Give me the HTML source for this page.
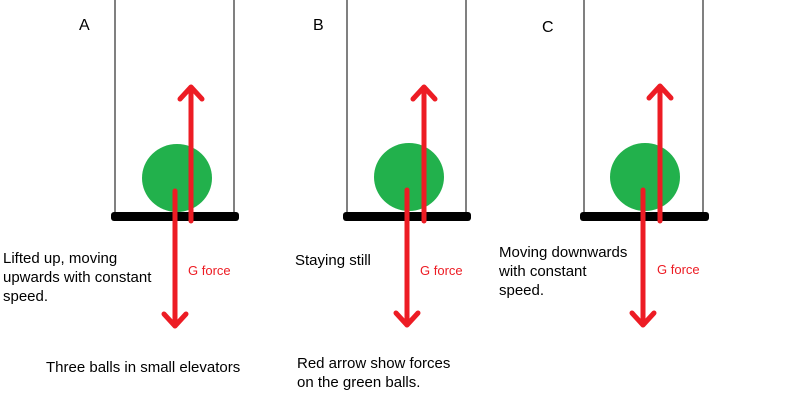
<!DOCTYPE html>
<html><head><style>
body{margin:0;background:#fff;}
svg{display:block}
text{font-family:"Liberation Sans",sans-serif;}
</style></head><body>
<svg width="800" height="406" viewBox="0 0 800 406" xmlns="http://www.w3.org/2000/svg">
<g stroke="#000" stroke-width="1">
<line x1="115" y1="0" x2="115" y2="214"/><line x1="234" y1="0" x2="234" y2="214"/>
<line x1="347" y1="0" x2="347" y2="214"/><line x1="466" y1="0" x2="466" y2="214"/>
<line x1="584" y1="0" x2="584" y2="214"/><line x1="703" y1="0" x2="703" y2="214"/>
</g>
<g fill="#000">
<rect x="111" y="212" width="128" height="9" rx="3"/>
<rect x="343" y="212" width="128" height="9" rx="3"/>
<rect x="580" y="212" width="129" height="9" rx="3"/>
</g>
<g fill="#22b14c">
<ellipse cx="177" cy="178" rx="35" ry="34"/>
<ellipse cx="409" cy="177" rx="35" ry="34"/>
<ellipse cx="645" cy="177" rx="35" ry="34"/>
</g>
<g stroke="#ed1c24" stroke-width="5" fill="none" stroke-linecap="round" stroke-linejoin="round">
<line x1="191" y1="221" x2="191" y2="89"/><polyline points="180,99 191,87 202,99"/>
<line x1="175" y1="191" x2="175" y2="324"/><polyline points="164,314 175,326 186,314"/>
<line x1="424" y1="221" x2="424" y2="89"/><polyline points="413,99 424,87 435,99"/>
<line x1="407" y1="190" x2="407" y2="323"/><polyline points="396,313 407,325 418,313"/>
<line x1="660" y1="221" x2="660" y2="88"/><polyline points="649,98 660,86 671,98"/>
<line x1="643" y1="190" x2="643" y2="323"/><polyline points="632,313 643,325 654,313"/>
</g>
<g fill="#000" font-size="16">
<text x="79" y="30">A</text><text x="313" y="30">B</text><text x="542" y="32">C</text>
</g>
<g fill="#ed1c24" font-size="13">
<text x="188" y="275">G force</text><text x="420" y="275">G force</text><text x="657" y="274">G force</text>
</g>
<g fill="#000" font-size="15">
<text x="3" y="263">Lifted up, moving</text>
<text x="3" y="282">upwards with constant</text>
<text x="3" y="301">speed.</text>
<text x="295" y="265">Staying still</text>
<text x="499" y="257">Moving downwards</text>
<text x="499" y="276">with constant</text>
<text x="499" y="295">speed.</text>
<text x="46" y="372">Three balls in small elevators</text>
<text x="297" y="368">Red arrow show forces</text>
<text x="297" y="387">on the green balls.</text>
</g>
</svg>
</body></html>
